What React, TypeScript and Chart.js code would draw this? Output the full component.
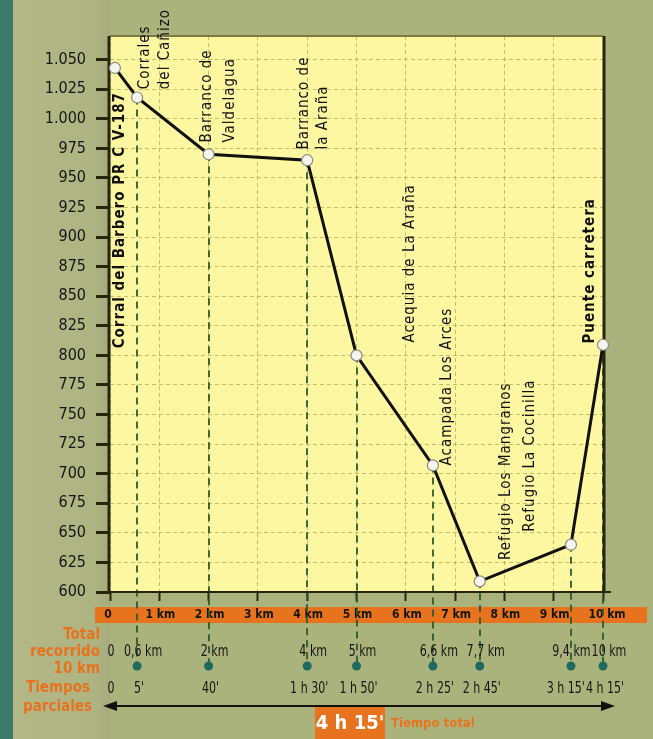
import React, { useEffect, useRef } from "react";
import { Chart, registerables } from "chart.js";

Chart.register(...registerables);

const FONT = '"DejaVu Sans Condensed", "Liberation Sans Narrow", "Arial Narrow", "DejaVu Sans", sans-serif';

// Profile: distance (km, as placed on the chart) and elevation (m)
const distanceKm = [0.1, 0.55, 2, 4, 5, 6.55, 7.5, 9.35, 10];
const elevationM = [1043, 1018, 970, 965, 800, 707, 609, 640, 809];

// Bottom rows
const distanceLabels = ["0", "0,6 km", "2 km", "4 km", "5 km", "6,6 km", "7,7 km", "9,4 km", "10 km"];
const timeLabels = ["0", "5'", "40'", "1 h 30'", "1 h 50'", "2 h 25'", "2 h 45'", "3 h 15'", "4 h 15'"];
const kmTickLabels = ["0", "1 km", "2 km", "3 km", "4 km", "5 km", "6 km", "7 km", "8 km", "9 km", "10 km"];
const leftLabels = ["Total", "recorrido", "10 km", "Tiempos", "parciales"];
const totalTime = "4 h 15'";
const totalTimeLabel = "Tiempo total";

// Place names (vertical text), anchored at (km, elevation of text start)
const placeLabels = [
  { text: "Corral del Barbero PR C V-187", km: 0.2, elev: 806, bold: true },
  { text: "Corrales", km: 0.71, elev: 1025, bold: false },
  { text: "del Cañizo", km: 1.12, elev: 1025, bold: false },
  { text: "Barranco de", km: 1.97, elev: 980, bold: false },
  { text: "Valdelagua", km: 2.43, elev: 980, bold: false },
  { text: "Barranco de", km: 3.94, elev: 974, bold: false },
  { text: "la Araña", km: 4.32, elev: 974, bold: false },
  { text: "Acequia de La Araña", km: 6.09, elev: 811, bold: false },
  { text: "Acampada Los Arces", km: 6.84, elev: 707, bold: false },
  { text: "Refugio Los Mangranos", km: 8.03, elev: 627, bold: false },
  { text: "Refugio La Cocinilla", km: 8.52, elev: 651, bold: false },
  { text: "Puente carretera", km: 9.74, elev: 810, bold: true },
];

const OLIVE = "#abb37c";
const TEAL = "#3c7a6c";
const YELLOW = "#fdf7a2";
const ORANGE = "#e8731e";
const DARK = "#26260f";
const SQUEEZE = 0.82;

function fmtElev(v: number) {
  if (v >= 1000) return Math.floor(v / 1000) + "." + String(v % 1000).padStart(3, "0");
  return String(v);
}

function placeRow(ctx: CanvasRenderingContext2D, texts: string[], centers: number[], y: number) {
  const w = texts.map((t) => ctx.measureText(t).width * SQUEEZE);
  const c = centers.slice();
  for (let i = c.length - 2; i >= 0; i--) {
    const right = c[i] + w[i] / 2;
    const nextLeft = c[i + 1] - w[i + 1] / 2;
    if (right > nextLeft - 1) c[i] -= right - nextLeft + 1;
  }
  ctx.textAlign = "center";
  ctx.textBaseline = "middle";
  texts.forEach((t, i) => {
    ctx.save();
    ctx.translate(c[i], y);
    ctx.scale(SQUEEZE, 1);
    ctx.fillText(t, 0, 0);
    ctx.restore();
  });
}

export default function App() {
  const ref = useRef<HTMLCanvasElement>(null);

  useEffect(() => {
    const canvas = ref.current!;
    const decor = {
      id: "decor",
      beforeDraw(chart: any) {
        const { ctx, chartArea: a, width, height } = chart;
        ctx.save();
        ctx.fillStyle = OLIVE;
        ctx.fillRect(0, 0, width, height);
        const g = ctx.createLinearGradient(13, 0, a.left, 0);
        g.addColorStop(0, "#b4b887");
        g.addColorStop(0.85, "#aeb382");
        g.addColorStop(1, "#a6ab7c");
        ctx.fillStyle = g;
        ctx.fillRect(13, 0, a.left - 13, height);
        ctx.fillStyle = TEAL;
        ctx.fillRect(0, 0, 13, height);
        ctx.fillStyle = YELLOW;
        ctx.fillRect(a.left, a.top, a.right - a.left, a.bottom - a.top);
        ctx.restore();
      },
      beforeDatasetsDraw(chart: any) {
        const { ctx, chartArea: a } = chart;
        const xs = chart.scales.x;
        const ys = chart.scales.y;
        const b = a.bottom;
        ctx.save();
        // orange km band
        ctx.fillStyle = ORANGE;
        ctx.fillRect(95, b + 15, 552, 16);
        ctx.fillStyle = "#151505";
        ctx.font = "bold 12px " + FONT;
        ctx.textAlign = "center";
        ctx.textBaseline = "middle";
        kmTickLabels.forEach((t, i) => {
          ctx.fillText(t, xs.getPixelForValue(i) + (i === 10 ? 4 : i === 0 ? -2 : 1), b + 23);
        });
        // waypoint dashed drop lines
        ctx.strokeStyle = "#2e5a2c";
        ctx.lineWidth = 1.8;
        ctx.setLineDash([7, 5]);
        for (let i = 1; i < distanceKm.length; i++) {
          const px = Math.round(xs.getPixelForValue(distanceKm[i]));
          ctx.beginPath();
          ctx.moveTo(px, ys.getPixelForValue(elevationM[i]));
          ctx.lineTo(px, b + 70);
          ctx.stroke();
        }
        ctx.setLineDash([]);
        // dots
        ctx.fillStyle = "#1f6a60";
        for (let i = 1; i < distanceKm.length; i++) {
          ctx.beginPath();
          ctx.arc(xs.getPixelForValue(distanceKm[i]), b + 74, 4.5, 0, Math.PI * 2);
          ctx.fill();
        }
        // rows
        ctx.fillStyle = "#151515";
        ctx.font = "15px " + FONT;
        placeRow(
          ctx,
          distanceLabels,
          distanceKm.map((d, i) => xs.getPixelForValue(d) + (i === 0 ? -4 : 6)),
          b + 60
        );
        placeRow(
          ctx,
          timeLabels,
          distanceKm.map((d, i) => xs.getPixelForValue(d) + (i === 0 ? -4 : 2)),
          b + 97
        );
        // left orange labels
        ctx.fillStyle = ORANGE;
        ctx.font = "bold 15px " + FONT;
        ctx.textAlign = "right";
        const lx = [100, 100, 100, 90, 92];
        const ly = [43, 60, 77, 96, 115];
        leftLabels.forEach((t, i) => ctx.fillText(t, lx[i], b + ly[i]));
        // arrow
        const ay = b + 114;
        const x1 = 103;
        const x2 = 615;
        ctx.strokeStyle = "#111";
        ctx.fillStyle = "#111";
        ctx.lineWidth = 2;
        ctx.beginPath();
        ctx.moveTo(x1 + 8, ay);
        ctx.lineTo(x2 - 8, ay);
        ctx.stroke();
        ctx.beginPath();
        ctx.moveTo(x1, ay);
        ctx.lineTo(x1 + 14, ay - 5);
        ctx.lineTo(x1 + 14, ay + 5);
        ctx.closePath();
        ctx.fill();
        ctx.beginPath();
        ctx.moveTo(x2, ay);
        ctx.lineTo(x2 - 14, ay - 5);
        ctx.lineTo(x2 - 14, ay + 5);
        ctx.closePath();
        ctx.fill();
        // total time box
        ctx.fillStyle = ORANGE;
        ctx.fillRect(315, b + 115, 70, 40);
        ctx.fillStyle = "#ffffff";
        ctx.font = "bold 20px " + FONT;
        ctx.textAlign = "center";
        ctx.fillText(totalTime, 350, b + 132);
        ctx.fillStyle = ORANGE;
        ctx.font = "bold 13px " + FONT;
        ctx.textAlign = "left";
        ctx.fillText(totalTimeLabel, 391, b + 132);
        // frame
        ctx.strokeStyle = "#7c7a44";
        ctx.lineWidth = 2;
        ctx.beginPath();
        ctx.moveTo(a.left, a.top);
        ctx.lineTo(a.right, a.top);
        ctx.stroke();
        ctx.strokeStyle = DARK;
        ctx.lineWidth = 3;
        ctx.beginPath();
        ctx.moveTo(a.left - 1, a.top);
        ctx.lineTo(a.left - 1, b + 1);
        ctx.stroke();
        ctx.beginPath();
        ctx.moveTo(a.right + 1, a.top);
        ctx.lineTo(a.right + 1, b);
        ctx.stroke();
        ctx.lineWidth = 2;
        ctx.beginPath();
        ctx.moveTo(a.left - 2, b);
        ctx.lineTo(a.right + 8, b);
        ctx.stroke();
        ctx.restore();
      },
      afterDatasetsDraw(chart: any) {
        const { ctx } = chart;
        const xs = chart.scales.x;
        const ys = chart.scales.y;
        ctx.save();
        ctx.fillStyle = "#111";
        ctx.textAlign = "left";
        ctx.textBaseline = "middle";
        placeLabels.forEach((p) => {
          ctx.save();
          ctx.translate(xs.getPixelForValue(p.km), ys.getPixelForValue(p.elev));
          ctx.rotate(-Math.PI / 2);
          ctx.font = "15px " + FONT;
          if (p.bold) ctx.font = "bold 15px " + FONT;
          (ctx as any).letterSpacing = "1px";
          ctx.fillText(p.text, 0, 0);
          ctx.restore();
        });
        ctx.restore();
      },
    };

    const chart = new Chart(canvas, {
      type: "line",
      data: {
        datasets: [
          {
            data: distanceKm.map((x, i) => ({ x, y: elevationM[i] })),
            borderColor: "#111",
            borderWidth: 3,
            pointRadius: 5.5,
            pointBackgroundColor: "#f6f6f0",
            pointBorderColor: "#8a8a80",
            pointBorderWidth: 1.2,
            tension: 0,
            clip: false as any,
          },
        ],
      },
      options: {
        animation: false,
        responsive: false,
        devicePixelRatio: 1,
        layout: { padding: { left: 10, right: 50, top: 36, bottom: 0 } },
        plugins: { legend: { display: false }, tooltip: { enabled: false } },
        events: [],
        scales: {
          x: {
            type: "linear",
            min: 0,
            max: 10,
            ticks: { stepSize: 1, display: false },
            grid: {
              color: "rgba(165,150,70,0.6)",
              lineWidth: 1,
              tickLength: 9,
              tickColor: DARK,
              tickWidth: 2,
            },
            border: { display: false, dash: [4, 3] },
            afterFit: (s: any) => {
              s.height = 147;
            },
          },
          y: {
            type: "linear",
            min: 600,
            max: 1070,
            ticks: {
              stepSize: 25,
              color: "#151515",
              padding: 10,
              font: { family: FONT, size: 16 },
              callback: (v: any) => fmtElev(Number(v)),
            },
            afterBuildTicks: (s: any) => {
              s.ticks = s.ticks.filter((t: any) => t.value <= 1050);
            },
            grid: {
              color: "rgba(165,150,70,0.6)",
              lineWidth: 1,
              tickLength: 14,
              tickColor: DARK,
              tickWidth: 3,
            },
            border: { display: false, dash: [4, 3] },
            afterFit: (s: any) => {
              s.width = 100;
            },
          },
        },
      },
      plugins: [decor],
    });
    return () => chart.destroy();
  }, []);

  return (
    <div style={{ position: "absolute", left: 0, top: 0, width: 653, height: 739 }}>
      <canvas ref={ref} width={653} height={739} style={{ display: "block", width: 653, height: 739 }} />
    </div>
  );
}
